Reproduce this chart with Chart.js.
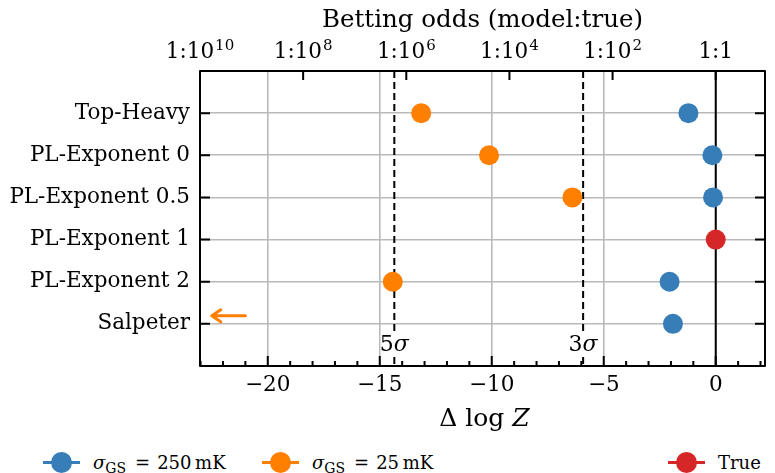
<!DOCTYPE html>
<html lang="en">
<head>
    <meta charset="UTF-8">
    <title>Model evidence comparison</title>
    <script src="https://cdn.jsdelivr.net/npm/chart.js"></script>
    <style>
        body {
            margin: 0;
            background: #ffffff;
        }

        #wrap {
            position: relative;
            width: 775px;
            height: 473px;
        }

        #chart-box {
            position: absolute;
            left: 0;
            top: 0;
            width: 775px;
            height: 440px;
        }

        .legend-item {
            position: absolute;
            top: 450px;
            height: 24px;
            display: flex;
            align-items: center;
            font-family: 'DejaVu Serif', serif;
            font-size: 18px;
            color: #000;
            white-space: nowrap;
        }

        .swatch {
            position: relative;
            width: 37px;
            height: 3px;
            margin-right: 13px;
        }

        .swatch .dot {
            position: absolute;
            left: 8px;
            top: -9px;
            width: 21px;
            height: 21px;
            border-radius: 50%;
        }

        .legend-item sub {
            font-size: 14px;
            vertical-align: -4px;
            line-height: 0;
        }

        .legend-item .eq {
            margin: 0 7px 0 9px;
        }
    </style>
</head>
<body>
    <div id="wrap">
        <div id="chart-box"><canvas id="evidence-chart"></canvas></div>
        <div id="legend"></div>
    </div>

    <script>
        // categories (top to bottom) and the Delta log Z of each model
        const categories = ['Top-Heavy', 'PL-Exponent 0', 'PL-Exponent 0.5', 'PL-Exponent 1', 'PL-Exponent 2', 'Salpeter'];
        const dlogZ250 = [-1.22, -0.15, -0.12, null, -2.06, -1.91];
        const dlogZ25 = [-13.15, -10.12, -6.40, null, -14.42, null];
        const dlogZTrue = [null, null, null, 0, null, null];

        // Salpeter at 25 mK is off the left edge, shown with an arrow
        const offscaleArrow = { from: -21.0, to: -22.5, row: 4.81 };

        const sigmaThresholds = [-14.35, -5.92];
        const sigmaNames = ['5', '3'];

        const xTicks = [-20, -15, -10, -5, 0];
        const oddsPowers = [10, 8, 6, 4, 2, 0];

        const seriesNames = ['250\u2009mK', '25\u2009mK', 'True'];
        const seriesColors = ['#377eb8', '#ff7f00', '#d62728'];

        const xMin = -10 * Math.LN10;
        const xMax = 2.2;
        const serif = 'DejaVu Serif';
        const gridColor = '#b9b9b9';
        const tickSize = 21.5;

        function toPoints(values) {
            return values
                .map((v, i) => v === null ? null : { x: v, y: i })
                .filter(p => p !== null);
        }

        function vLine(x) {
            return [{ x: x, y: -1 }, { x: x, y: categories.length }];
        }

        const datasets = [
            {
                label: 'zero',
                data: vLine(0),
                showLine: true,
                borderColor: '#000',
                borderWidth: 2,
                pointRadius: 0,
                order: 5
            }
        ];

        sigmaThresholds.forEach((t, i) => {
            datasets.push({
                label: sigmaNames[i] + 'sigma',
                data: vLine(t),
                showLine: true,
                borderColor: '#000',
                borderWidth: 2,
                borderDash: [7, 4],
                pointRadius: 0,
                order: 4
            });
        });

        [dlogZ250, dlogZ25, dlogZTrue].forEach((vals, i) => {
            datasets.push({
                label: seriesNames[i],
                data: toPoints(vals),
                backgroundColor: seriesColors[i],
                borderWidth: 0,
                pointRadius: 10,
                pointHoverRadius: 10,
                order: 1
            });
        });

        const decorations = {
            id: 'decorations',
            afterDraw(chart) {
                const ctx = chart.ctx;
                const area = chart.chartArea;
                const x = chart.scales.x;
                const y = chart.scales.y;
                ctx.save();

                // top tick labels 1:10^n with real superscripts
                ctx.fillStyle = '#000';
                ctx.textBaseline = 'alphabetic';
                ctx.textAlign = 'left';
                oddsPowers.forEach(p => {
                    const px = x.getPixelForValue(-p * Math.LN10);
                    const base = p === 0 ? '1:1' : '1:10';
                    const expo = p === 0 ? '' : String(p);
                    ctx.font = tickSize + 'px "' + serif + '"';
                    const wb = ctx.measureText(base).width;
                    ctx.font = '15px "' + serif + '"';
                    const we = expo ? ctx.measureText(expo).width + 1 : 0;
                    const left = px - (wb + we) / 2;
                    const by = area.top - 13;
                    ctx.font = tickSize + 'px "' + serif + '"';
                    ctx.fillText(base, left, by);
                    if (expo) {
                        ctx.font = '15px "' + serif + '"';
                        ctx.fillText(expo, left + wb + 1, by - 8);
                    }
                });

                // sigma labels with a white box behind them
                ctx.textBaseline = 'middle';
                sigmaThresholds.forEach((t, i) => {
                    const cx = x.getPixelForValue(t);
                    const cy = y.getPixelForValue(categories.length - 0.5);
                    ctx.font = '22px "' + serif + '"';
                    const w1 = ctx.measureText(sigmaNames[i]).width;
                    ctx.font = 'italic 22px "' + serif + '"';
                    const w2 = ctx.measureText('\u03c3').width;
                    const left = cx - (w1 + w2) / 2;
                    ctx.fillStyle = '#fff';
                    ctx.fillRect(left + 1, cy - 12, w1 + w2 - 2, 24);
                    ctx.fillStyle = '#000';
                    ctx.font = '22px "' + serif + '"';
                    ctx.fillText(sigmaNames[i], left, cy);
                    ctx.font = 'italic 22px "' + serif + '"';
                    ctx.fillText('\u03c3', left + w1, cy);
                });

                // off-scale arrow
                const ay = y.getPixelForValue(offscaleArrow.row);
                const ax0 = x.getPixelForValue(offscaleArrow.from);
                const ax1 = x.getPixelForValue(offscaleArrow.to);
                ctx.strokeStyle = seriesColors[1];
                ctx.lineWidth = 3;
                ctx.lineCap = 'round';
                ctx.lineJoin = 'round';
                ctx.beginPath();
                ctx.moveTo(ax0, ay);
                ctx.lineTo(ax1, ay);
                ctx.moveTo(ax1 + 9, ay - 6);
                ctx.lineTo(ax1, ay);
                ctx.lineTo(ax1 + 9, ay + 6);
                ctx.stroke();

                // frame
                ctx.lineCap = 'butt';
                ctx.strokeStyle = '#000';
                ctx.lineWidth = 2;
                ctx.strokeRect(area.left, area.top, area.right - area.left, area.bottom - area.top);

                // inward ticks
                ctx.beginPath();
                for (let v = Math.ceil(xMin); v <= Math.floor(xMax); v++) {
                    const px = x.getPixelForValue(v);
                    const len = v % 5 === 0 ? 10 : 5;
                    ctx.moveTo(px, area.bottom);
                    ctx.lineTo(px, area.bottom - len);
                }
                oddsPowers.forEach(p => {
                    const px = x.getPixelForValue(-p * Math.LN10);
                    ctx.moveTo(px, area.top);
                    ctx.lineTo(px, area.top + 9);
                });
                categories.forEach((c, i) => {
                    const py = y.getPixelForValue(i);
                    ctx.moveTo(area.left, py);
                    ctx.lineTo(area.left + 10, py);
                    ctx.moveTo(area.right, py);
                    ctx.lineTo(area.right - 10, py);
                });
                ctx.stroke();

                // bottom axis title: Delta log Z
                const t1 = '\u0394 log ';
                ctx.font = '25px "' + serif + '"';
                const tw1 = ctx.measureText(t1).width;
                ctx.font = 'italic 25px "' + serif + '"';
                const tw2 = ctx.measureText('Z').width;
                const tx = (area.left + area.right) / 2 - (tw1 + tw2) / 2 + 2;
                const ty = area.bottom + 53;
                ctx.textAlign = 'left';
                ctx.textBaseline = 'middle';
                ctx.fillStyle = '#000';
                ctx.font = '25px "' + serif + '"';
                ctx.fillText(t1, tx, ty);
                ctx.font = 'italic 25px "' + serif + '"';
                ctx.fillText('Z', tx + tw1, ty);

                ctx.restore();
            }
        };

        new Chart(document.getElementById('evidence-chart').getContext('2d'), {
            type: 'scatter',
            data: { datasets: datasets },
            options: {
                responsive: true,
                maintainAspectRatio: false,
                animation: false,
                events: [],
                layout: { padding: { left: 0, right: 2, top: 0, bottom: 0 } },
                plugins: {
                    legend: { display: false },
                    tooltip: { enabled: false }
                },
                scales: {
                    x: {
                        type: 'linear',
                        position: 'bottom',
                        min: xMin,
                        max: xMax,
                        afterBuildTicks: s => { s.ticks = xTicks.map(v => ({ value: v })); },
                        afterFit: s => { s.height = 74; },
                        border: { display: false },
                        grid: {
                            color: gridColor,
                            lineWidth: 1.6,
                            drawTicks: false
                        },
                        ticks: {
                            color: '#000',
                            font: { family: serif, size: tickSize },
                            padding: 7,
                            maxRotation: 0,
                            autoSkip: false,
                            callback: v => v < 0 ? '\u2212' + Math.abs(v) : String(v)
                        }
                    },
                    x2: {
                        type: 'linear',
                        position: 'top',
                        min: xMin,
                        max: xMax,
                        afterBuildTicks: s => { s.ticks = oddsPowers.map(p => ({ value: -p * Math.LN10 })); },
                        afterFit: s => { s.height = 71; },
                        border: { display: false },
                        grid: { display: false, drawTicks: false },
                        ticks: { display: false },
                        title: {
                            display: true,
                            text: 'Betting odds (model:true)',
                            color: '#000',
                            font: { family: serif, size: 24.5 },
                            padding: { top: 6, bottom: 0 }
                        }
                    },
                    y: {
                        type: 'linear',
                        reverse: true,
                        min: -1,
                        max: categories.length,
                        afterBuildTicks: s => { s.ticks = categories.map((c, i) => ({ value: i })); },
                        afterFit: s => { s.width = 200; },
                        border: { display: false },
                        grid: {
                            color: gridColor,
                            lineWidth: 1.6,
                            drawTicks: false
                        },
                        ticks: {
                            color: '#000',
                            font: { family: serif, size: tickSize },
                            padding: 10,
                            autoSkip: false,
                            callback: v => categories[v]
                        }
                    }
                }
            },
            plugins: [decorations]
        });

        // legend below the plot
        const legendLeft = [43, 262, 668];
        const legendText = [
            '<i>\u03c3</i><sub>GS</sub><span class="eq">=</span>' + seriesNames[0],
            '<i>\u03c3</i><sub>GS</sub><span class="eq">=</span>' + seriesNames[1],
            seriesNames[2]
        ];
        const legend = document.getElementById('legend');
        legendText.forEach((txt, i) => {
            const item = document.createElement('div');
            item.className = 'legend-item';
            item.style.left = legendLeft[i] + 'px';
            item.innerHTML = '<span class="swatch" style="background:' + seriesColors[i] + '">' +
                '<span class="dot" style="background:' + seriesColors[i] + '"></span></span>' +
                '<span>' + txt + '</span>';
            legend.appendChild(item);
        });
    </script>
</body>
</html>
